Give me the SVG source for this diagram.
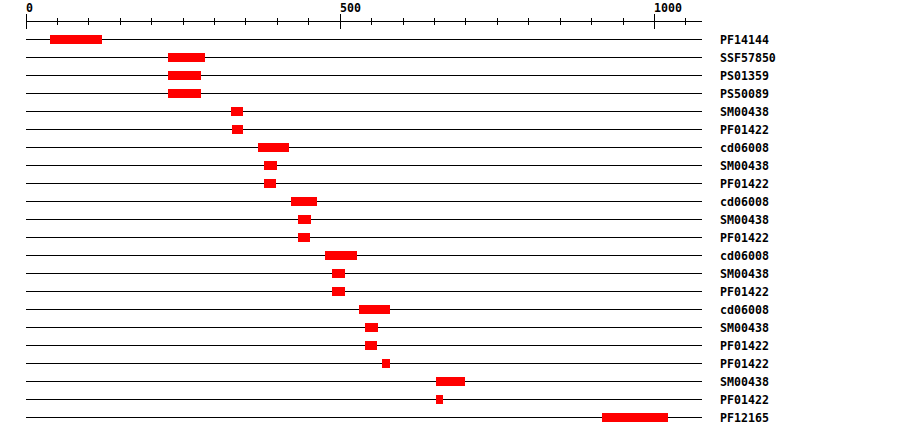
<svg xmlns="http://www.w3.org/2000/svg" width="900" height="436" viewBox="0 0 900 436">
<style>
text{font-family:"DejaVu Sans Mono","Liberation Mono",monospace;font-weight:bold;font-size:11.6px;fill:#000}
.ln{stroke:#000;stroke-width:1;fill:none}
.bar{fill:#ff0000}
</style>
<rect width="900" height="436" fill="#fff"/>
<g id="axis">
<path class="ln" d="M26 21.5H702"/>
<path class="ln" d="M26.5 14V29M340.5 14V29M654.5 14V29"/>
<path class="ln" d="M57.5 18V25M88.5 18V25M120.5 18V25M151.5 18V25M183.5 18V25M214.5 18V25M245.5 18V25M277.5 18V25M308.5 18V25M371.5 18V25M403.5 18V25M434.5 18V25M465.5 18V25M497.5 18V25M528.5 18V25M560.5 18V25M591.5 18V25M623.5 18V25M685.5 18V25"/>
<text x="26" y="12">0</text>
<text x="340" y="12">500</text>
<text x="654" y="12">1000</text>
</g>
<g id="connectors">
<path class="ln" d="M26 39.5H702M26 57.5H702M26 75.5H702M26 93.5H702M26 111.5H702M26 129.5H702M26 147.5H702M26 165.5H702M26 183.5H702M26 201.5H702M26 219.5H702M26 237.5H702M26 255.5H702M26 273.5H702M26 291.5H702M26 309.5H702M26 327.5H702M26 345.5H702M26 363.5H702M26 381.5H702M26 399.5H702M26 417.5H702"/>
</g>
<g id="row1"><rect class="bar" x="50" y="35" width="52" height="9"/><text x="720" y="44">PF14144</text></g>
<g id="row2"><rect class="bar" x="168" y="53" width="37" height="9"/><text x="720" y="62">SSF57850</text></g>
<g id="row3"><rect class="bar" x="168" y="71" width="33" height="9"/><text x="720" y="80">PS01359</text></g>
<g id="row4"><rect class="bar" x="168" y="89" width="33" height="9"/><text x="720" y="98">PS50089</text></g>
<g id="row5"><rect class="bar" x="231" y="107" width="12" height="9"/><text x="720" y="116">SM00438</text></g>
<g id="row6"><rect class="bar" x="232" y="125" width="11" height="9"/><text x="720" y="134">PF01422</text></g>
<g id="row7"><rect class="bar" x="258" y="143" width="31" height="9"/><text x="720" y="152">cd06008</text></g>
<g id="row8"><rect class="bar" x="264" y="161" width="13" height="9"/><text x="720" y="170">SM00438</text></g>
<g id="row9"><rect class="bar" x="264" y="179" width="12" height="9"/><text x="720" y="188">PF01422</text></g>
<g id="row10"><rect class="bar" x="291" y="197" width="26" height="9"/><text x="720" y="206">cd06008</text></g>
<g id="row11"><rect class="bar" x="298" y="215" width="13" height="9"/><text x="720" y="224">SM00438</text></g>
<g id="row12"><rect class="bar" x="298" y="233" width="12" height="9"/><text x="720" y="242">PF01422</text></g>
<g id="row13"><rect class="bar" x="325" y="251" width="32" height="9"/><text x="720" y="260">cd06008</text></g>
<g id="row14"><rect class="bar" x="332" y="269" width="13" height="9"/><text x="720" y="278">SM00438</text></g>
<g id="row15"><rect class="bar" x="332" y="287" width="13" height="9"/><text x="720" y="296">PF01422</text></g>
<g id="row16"><rect class="bar" x="359" y="305" width="31" height="9"/><text x="720" y="314">cd06008</text></g>
<g id="row17"><rect class="bar" x="365" y="323" width="13" height="9"/><text x="720" y="332">SM00438</text></g>
<g id="row18"><rect class="bar" x="365" y="341" width="12" height="9"/><text x="720" y="350">PF01422</text></g>
<g id="row19"><rect class="bar" x="382" y="359" width="8" height="9"/><text x="720" y="368">PF01422</text></g>
<g id="row20"><rect class="bar" x="436" y="377" width="29" height="9"/><text x="720" y="386">SM00438</text></g>
<g id="row21"><rect class="bar" x="436" y="395" width="7" height="9"/><text x="720" y="404">PF01422</text></g>
<g id="row22"><rect class="bar" x="602" y="413" width="66" height="9"/><text x="720" y="422">PF12165</text></g>
</svg>
